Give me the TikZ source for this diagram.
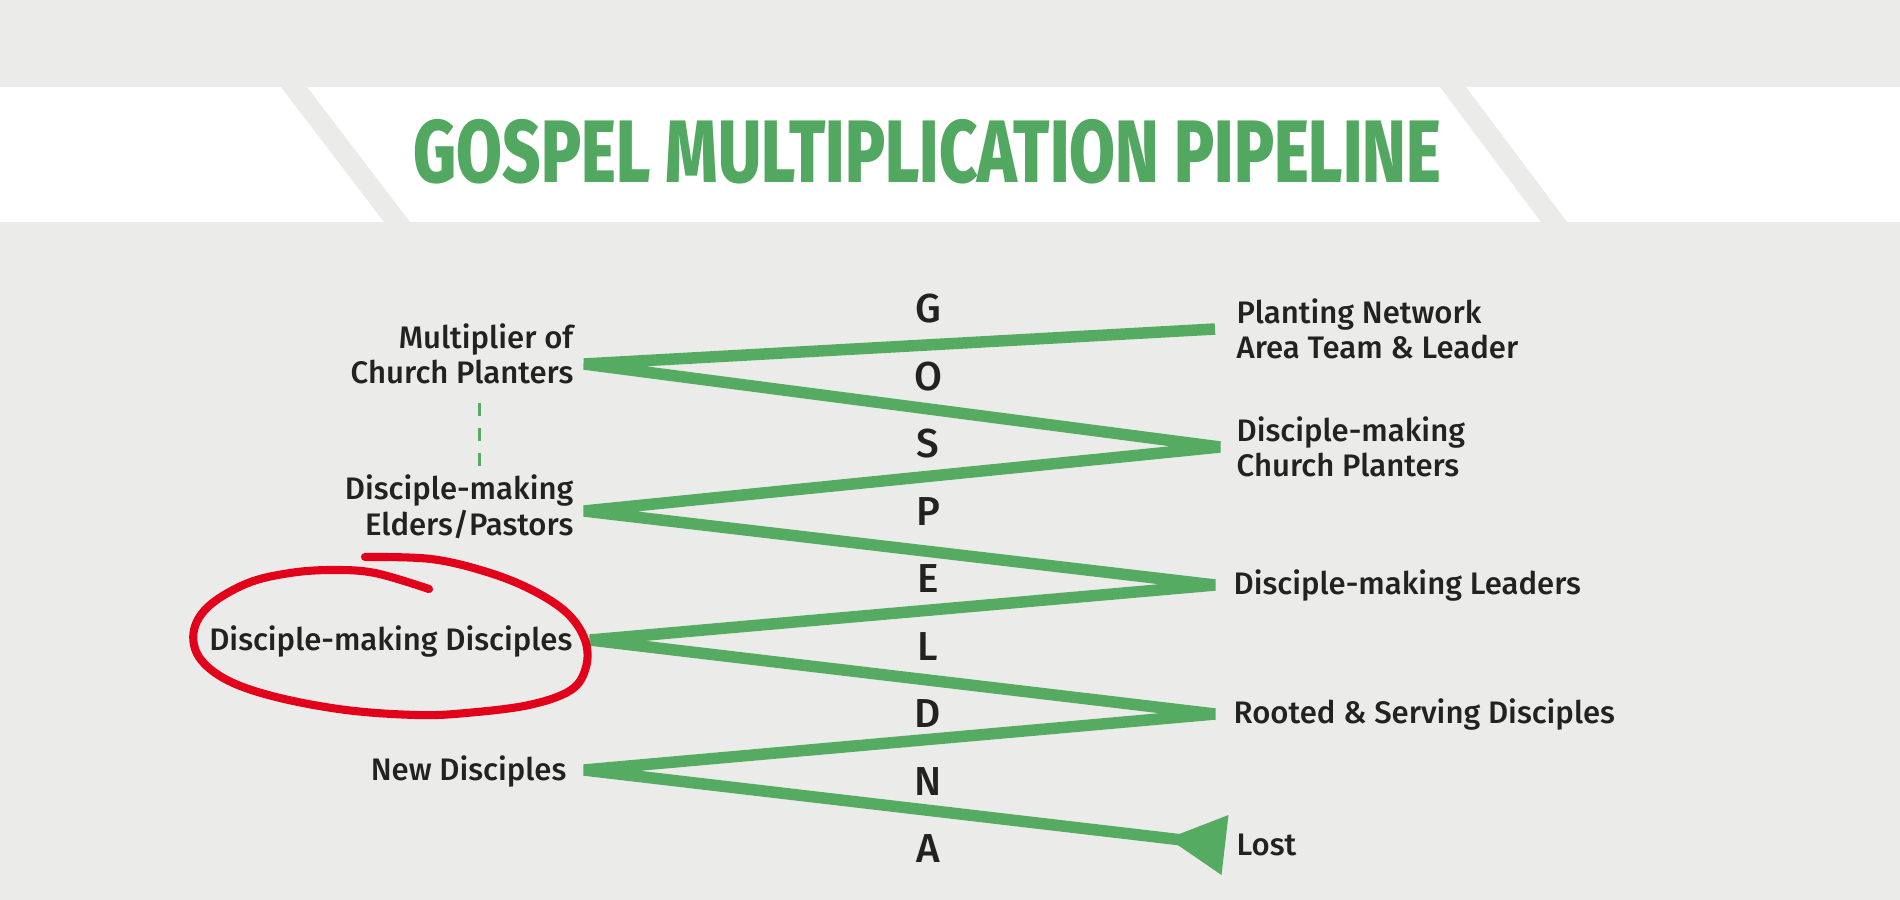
\documentclass[tikz,border=0pt]{standalone}
\usepackage{fontspec}
\usepackage{graphicx}
\setmainfont{Noto Sans}
\newfontfamily\lblfont{Fira Sans}[UprightFont={* Medium}]
\newfontfamily\ttlfont{Fira Sans}[UprightFont={* ExtraBold}]
\usetikzlibrary{arrows.meta}
\definecolor{bgc}{HTML}{EBEBE9}
\definecolor{grn}{HTML}{56AB62}
\definecolor{ttl}{HTML}{52A860}
\definecolor{ink}{HTML}{222222}
\definecolor{redink}{HTML}{E2001A}

\begin{document}
\begin{tikzpicture}[
    x=0.01cm,y=-0.01cm,
    lbl/.style={font=\lblfont\fontsize{8.85}{10.1}\selectfont,text=ink,inner sep=0pt},
    ltr/.style={font=\lblfont\fontsize{11.5}{13}\selectfont,text=ink,inner sep=0pt},
    zig/.style={draw=grn,line width=3.27pt,line join=bevel},
    dsh/.style={draw=grn,line width=0.85pt,dash pattern=on 3.7pt off 3.4pt},
    pen/.style={draw=redink,line width=2.3pt,line cap=round}
]
\useasboundingbox (0,0) rectangle (1900,900);
\fill[bgc] (0,0) rectangle (1900,900);

% title band
\fill[white] (0,87) rectangle (1900,222);
\fill[bgc] (281,87) -- (307,87) -- (410,222) -- (384,222) -- cycle;
\fill[bgc] (1440,87) -- (1466,87) -- (1567,222) -- (1541,222) -- cycle;
\node[font=\ttlfont\fontsize{25.2}{27}\selectfont,text=ttl,inner sep=0pt] (title) at (927.5,152)
    {\scalebox{0.75}[1]{GOSPEL MULTIPLICATION PIPELINE}};

% left side
\node[lbl,align=right,anchor=east] (mult) at (574,354) {Multiplier of\\Church Planters};
\node[lbl,align=right,anchor=east] (elders) at (574,507) {Disciple-making\\Elders/Pastors};
\node[lbl,anchor=base east] (dmd) at (573,650) {Disciple-making Disciples};
\node[lbl,anchor=base east] (newd) at (567,780) {New Disciples};

% right side
\node[lbl,align=left,anchor=west] (pnet) at (1236,329) {Planting Network\\Area Team \& Leader};
\node[lbl,align=left,anchor=west] (dmcp) at (1236,447) {Disciple-making\\Church Planters};
\node[lbl,anchor=base west] (lead) at (1233,594) {Disciple-making Leaders};
\node[lbl,anchor=base west] (root) at (1233,723) {Rooted \& Serving Disciples};
\node[lbl,anchor=base west] (lost) at (1236,855) {Lost};

% gospel letters
\foreach \ch [count=\i from 0] in {G,O,S,P,E,L,D,N,A}
    \node[ltr] (gl\i) at (928,{309+67.5*\i}) {\ch};

% pipeline
\coordinate (t0) at (1215,329);
\coordinate (v1) at (584,364);
\coordinate (v2) at (1220,447);
\coordinate (v3) at (584,511);
\coordinate (v4) at (1215,585);
\coordinate (v5) at (590,640);
\coordinate (v6) at (1215,714);
\coordinate (v7) at (584,770);
\coordinate (t9) at (1225,845);
\draw[zig,-{Triangle[reversed,length=0.58cm,width=0.57cm]}]
    (t0) -- (v1) -- (v2) -- (v3) -- (v4) -- (v5) -- (v6) -- (v7) -- (t9);

\coordinate (d1) at (479,403);
\coordinate (d2) at (479,466);
\draw[dsh] (d1) -- (d2);

% red mark round disciple-making disciples
\draw[pen] plot[smooth,tension=0.6] coordinates {
    (365,557) (431,559) (487,572) (532,590) (567,613) (585,640) (586,667)
    (571,690) (529,705) (466,713) (417,715) (346,710) (276,697) (227,680)
    (199,657) (194,630) (210,605) (248,583) (290,573) (332,570) (375,573) (429,589)};
\end{tikzpicture}
\end{document}
